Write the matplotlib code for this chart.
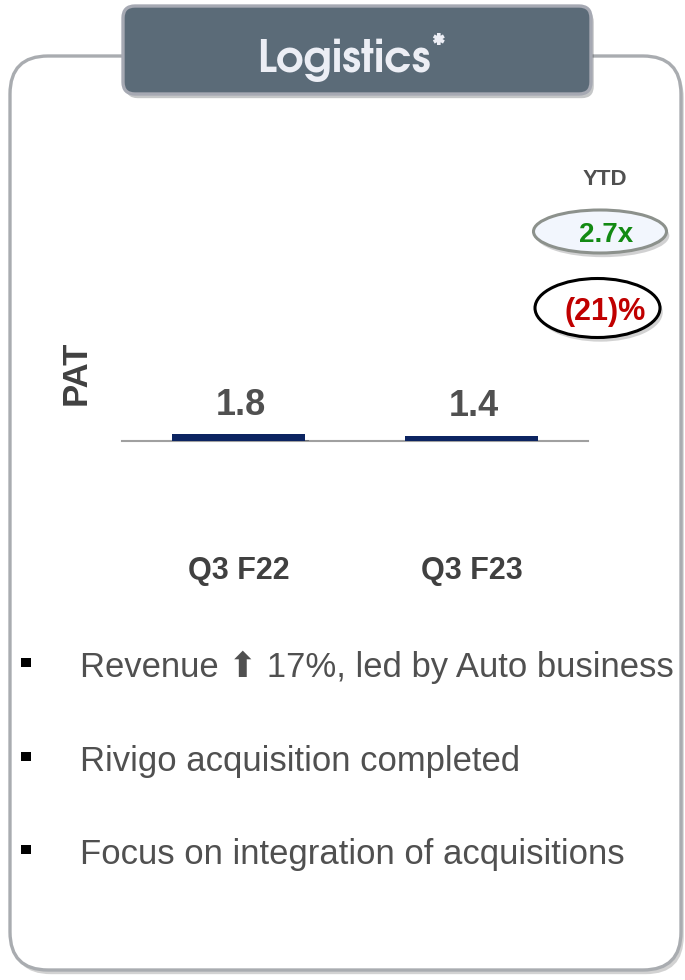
import matplotlib.pyplot as plt
import matplotlib.patheffects as pe
from matplotlib import font_manager as fm
from matplotlib.patches import FancyBboxPatch, Ellipse, Rectangle

# data
periods = ["Q3 F22", "Q3 F23"]
pat = [1.8, 1.4]
pat_labels = ["1.8", "1.4"]
ytd_badges = ["2.7x", "(21)%"]
bullets = [
    "Revenue \u2b06 17%, led by Auto business",
    "Rivigo acquisition completed",
    "Focus on integration of acquisitions",
]

have = {f.name for f in fm.fontManager.ttflist}


def pick(*names):
    for n in names:
        if n in have:
            return n
    return "DejaVu Sans"


ARIAL = pick("Liberation Sans", "Arimo", "DejaVu Sans")
GOTHIC = pick("TeX Gyre Adventor", "URW Gothic", "Century Gothic", "Lato")
narrow_candidates = [n for n in ["Liberation Sans Narrow", "Arial Narrow", "Roboto Condensed",
                                 "Fira Sans Condensed", "IBM Plex Sans Condensed",
                                 "Encode Sans Condensed", "Sofia Sans Condensed",
                                 "PT Sans Narrow", "Archivo Narrow", ARIAL] if n in have]

W, H = 685, 980
fig = plt.figure(figsize=(W / 100, H / 100), dpi=100)
renderer = fig.canvas.get_renderer()

# background canvas in pixel coordinates
bg = fig.add_axes([0, 0, 1, 1])
bg.set_xlim(0, W)
bg.set_ylim(H, 0)
bg.axis("off")

shadow = [pe.SimplePatchShadow(offset=(2, -3), alpha=0.25), pe.Normal()]

outer = FancyBboxPatch((10, 56), 671, 914, boxstyle="round,pad=0,rounding_size=38",
                       fc="white", ec="#a9acb0", lw=2.4, path_effects=shadow)
bg.add_patch(outer)

title_box = FancyBboxPatch((123, 6), 468, 88, boxstyle="round,pad=0,rounding_size=12",
                           fc="#5b6b78", ec="#a6a9b3", lw=2.4, path_effects=shadow)
bg.add_patch(title_box)
bg.text(344, 72, "Logistics", ha="center", va="baseline", fontsize=31,
        fontfamily=GOTHIC, fontweight="bold", color="#eceef5")
bg.text(438, 46, "*", ha="center", va="center", fontsize=20,
        fontfamily=GOTHIC, fontweight="bold", color="#eceef5")

# YTD badges
bg.text(605, 185, "YTD", ha="center", va="baseline", fontsize=16,
        fontfamily=ARIAL, fontweight="bold", color="#505050")
e1 = Ellipse((600, 231.5), 133, 43, fc="#f2f6fd", ec="#8c918c", lw=2.2, path_effects=shadow)
e2 = Ellipse((597.5, 308), 125, 59, fc="white", ec="black", lw=2.2, path_effects=shadow)
bg.add_patch(e1)
bg.add_patch(e2)
bg.text(606, 242, ytd_badges[0], ha="center", va="baseline", fontsize=20,
        fontfamily=ARIAL, fontweight="bold", color="#138a13")
bg.text(605, 320, ytd_badges[1], ha="center", va="baseline", fontsize=22,
        fontfamily=ARIAL, fontweight="bold", color="#c00000")

# bar chart
x0, x1, ybase, ytop = 122, 588, 441, 150
ax = fig.add_axes([x0 / W, 1 - ybase / H, (x1 - x0) / W, (ybase - ytop) / H])
ax.patch.set_alpha(0)
xs = range(len(periods))
bars = ax.bar(xs, pat, width=0.57, color="#0c2461", zorder=3)
for b in bars:
    b.set_path_effects([pe.SimplePatchShadow(offset=(3, -4), alpha=0.3), pe.Normal()])
ax.set_xlim(-0.5, 1.5)
ax.set_ylim(0, 75)
for i, (v, lab) in enumerate(zip(pat, pat_labels)):
    ax.annotate(lab, (i, v), xytext=(2, 8), textcoords="offset points",
                ha="center", va="bottom", fontsize=26, fontweight="bold",
                fontfamily=ARIAL, color="#505050")
for s in ["top", "left", "right"]:
    ax.spines[s].set_visible(False)
ax.spines["bottom"].set_color("#a0a0a0")
ax.spines["bottom"].set_linewidth(1.5)
ax.set_yticks([])
ax.set_xticks(list(xs))
ax.set_xticklabels(periods, fontsize=22, fontweight="bold",
                   fontfamily=ARIAL, color="#404040")
ax.tick_params(axis="x", length=0, pad=83)
ax.set_ylabel("PAT", fontsize=25, fontweight="bold", fontfamily=ARIAL,
              color="#404040", labelpad=0)
ax.yaxis.set_label_coords(-0.064, 0.235)

# bullets: pick the narrow face whose width-fitted size is closest to 22pt
target_w = 592
best = None
for name in narrow_candidates:
    t = bg.text(0, 0, bullets[0], fontsize=22, fontfamily=[name, "DejaVu Sans"])
    w = t.get_window_extent(renderer).width
    t.remove()
    size = 22 * target_w / w
    if best is None or abs(size - 22) < abs(best[1] - 22):
        best = (name, size)
bullet_font, bullet_size = best

for k, txt in enumerate(bullets):
    yb = 677 + k * 93.5
    bg.add_patch(Rectangle((21, yb - 19), 10, 9, fc="black", ec="none"))
    bg.text(80, yb, txt, ha="left", va="baseline", fontsize=bullet_size,
            fontfamily=[bullet_font, "DejaVu Sans"], color="#505050")

fig.savefig("out.png", dpi=100)
